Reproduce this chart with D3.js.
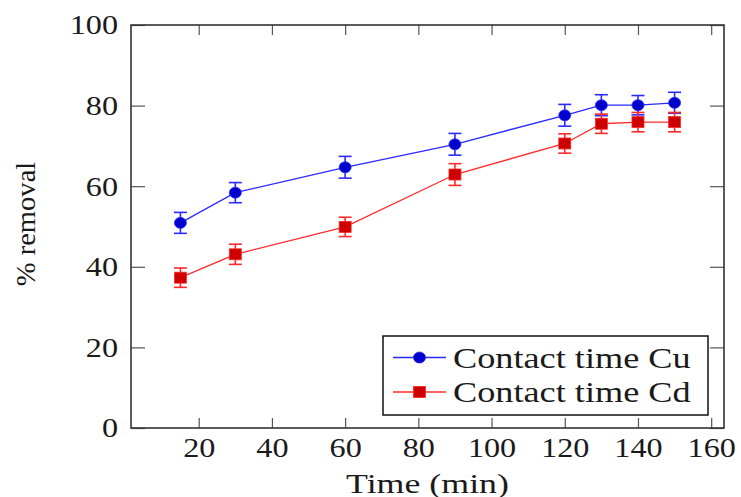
<!DOCTYPE html>
<html><head><meta charset="utf-8">
<script src="https://cdn.jsdelivr.net/npm/d3@7"></script>
<style>body{margin:0;background:#fff}svg{display:block}text{font-family:"Liberation Serif","Times New Roman",serif;fill:#1a1a1a}</style>
</head><body>
<svg id="c" width="741" height="497"></svg>
<script>
const time = [15, 30, 60, 90, 120, 130, 140, 150];
const cuVals = [50.9, 58.4, 64.7, 70.4, 77.6, 80.1, 80.1, 80.7];
const cdVals = [37.3, 43.1, 49.9, 62.9, 70.6, 75.5, 75.9, 75.9];
const cuErr = [2.6, 2.5, 2.7, 2.7, 2.7, 2.6, 2.4, 2.6];
const cdErr = [2.4, 2.5, 2.4, 2.7, 2.4, 2.4, 2.4, 2.4];
const xTicks = [20, 40, 60, 80, 100, 120, 140, 160];
const yTicks = [0, 20, 40, 60, 80, 100];
const seriesNames = ["Contact time Cu", "Contact time Cd"];

const svg = d3.select("#c");
const L = 131, R = 724, T = 25, B = 428;
const x = d3.scaleLinear().domain([1.5, 163.5]).range([L, R]);
const y = d3.scaleLinear().domain([0, 100]).range([B, T]);
const FS = 28;

function stretch(sel, f) {
  sel.each(function () {
    const w = this.getComputedTextLength();
    d3.select(this).attr("textLength", w * f).attr("lengthAdjust", "spacingAndGlyphs");
  });
}

// axes with inward ticks
const gx = svg.append("g").attr("transform", `translate(0,${B})`)
  .call(d3.axisBottom(x).tickValues(xTicks).tickSize(-10).tickPadding(9).tickFormat(d3.format("d")));
const gxt = svg.append("g").attr("transform", `translate(0,${T})`)
  .call(d3.axisTop(x).tickValues(xTicks).tickSize(-10).tickFormat(""));
const gy = svg.append("g").attr("transform", `translate(${L},0)`)
  .call(d3.axisLeft(y).tickValues(yTicks).tickSize(-14).tickPadding(13).tickFormat(d3.format("d")));
const gyr = svg.append("g").attr("transform", `translate(${R},0)`)
  .call(d3.axisRight(y).tickValues(yTicks).tickSize(-14).tickFormat(""));
[gx, gxt, gy, gyr].forEach(g => {
  g.select(".domain").remove();
  g.selectAll(".tick line").attr("stroke", "#555").attr("stroke-width", 1.2);
  g.selectAll(".tick text").attr("font-size", FS).attr("font-family", "Liberation Serif").attr("fill", "#1a1a1a");
});
gx.selectAll(".tick text").attr("dy", "0.71em");
stretch(gx.selectAll(".tick text"), 1.15);
stretch(gy.selectAll(".tick text"), 1.15);
svg.append("rect").attr("x", L).attr("y", T).attr("width", R - L).attr("height", B - T)
  .attr("fill", "none").attr("stroke", "#333").attr("stroke-width", 1.6);

// axis labels
const xl = svg.append("text").attr("x", (L + R) / 2).attr("y", 493).attr("text-anchor", "middle")
  .attr("font-size", FS).text("Time (min)");
stretch(xl, 1.28);
const yl = svg.append("text").attr("transform", `translate(35,224) rotate(-90)`).attr("text-anchor", "middle")
  .attr("font-size", FS).text("% removal");
stretch(yl, 1.02);

const series = [
  {name: seriesNames[0], vals: cuVals, err: cuErr, line: "#2a2aff", fill: "#0000cc", mark: "circle"},
  {name: seriesNames[1], vals: cdVals, err: cdErr, line: "#ff2a2a", fill: "#cc0000", mark: "square"}
];

function drawMark(g, s, cx, cy) {
  if (s.mark === "circle") {
    g.append("ellipse").attr("cx", cx).attr("cy", cy).attr("rx", 6).attr("ry", 5.5)
      .attr("fill", s.fill).attr("stroke", s.line).attr("stroke-width", 0.8);
  } else {
    g.append("rect").attr("x", cx - 6).attr("y", cy - 5.5).attr("width", 12).attr("height", 11)
      .attr("fill", s.fill).attr("stroke", s.line).attr("stroke-width", 0.8);
  }
}

const line = d3.line().x(d => x(d[0])).y(d => y(d[1]));
series.forEach(s => {
  const pts = time.map((t, i) => [t, s.vals[i], s.err[i]]);
  const g = svg.append("g");
  g.append("path").attr("d", line(pts)).attr("fill", "none").attr("stroke", s.line).attr("stroke-width", 1.3);
  pts.forEach(p => {
    const cx = x(p[0]), y1 = y(p[1] + p[2]), y2 = y(p[1] - p[2]);
    g.append("line").attr("x1", cx).attr("x2", cx).attr("y1", y1).attr("y2", y2).attr("stroke", s.line).attr("stroke-width", 1.6);
    [y1, y2].forEach(yy => g.append("line").attr("x1", cx - 6.5).attr("x2", cx + 6.5).attr("y1", yy).attr("y2", yy)
      .attr("stroke", s.line).attr("stroke-width", 1.6));
  });
  pts.forEach(p => drawMark(g, s, x(p[0]), y(p[1])));
});

// legend
const lg = svg.append("g");
lg.append("rect").attr("x", 383).attr("y", 336).attr("width", 325).attr("height", 79)
  .attr("fill", "#fff").attr("stroke", "#111").attr("stroke-width", 1.5);
series.forEach((s, i) => {
  const yy = 357.5 + i * 34.5;
  lg.append("line").attr("x1", 393).attr("x2", 446).attr("y1", yy).attr("y2", yy).attr("stroke", s.line).attr("stroke-width", 1.3);
  drawMark(lg, s, 419.5, yy);
  const t = lg.append("text").attr("x", 453).attr("y", yy + 10).attr("font-size", 29).text(s.name);
  stretch(t, 1.25);
});
</script>
</body></html>
